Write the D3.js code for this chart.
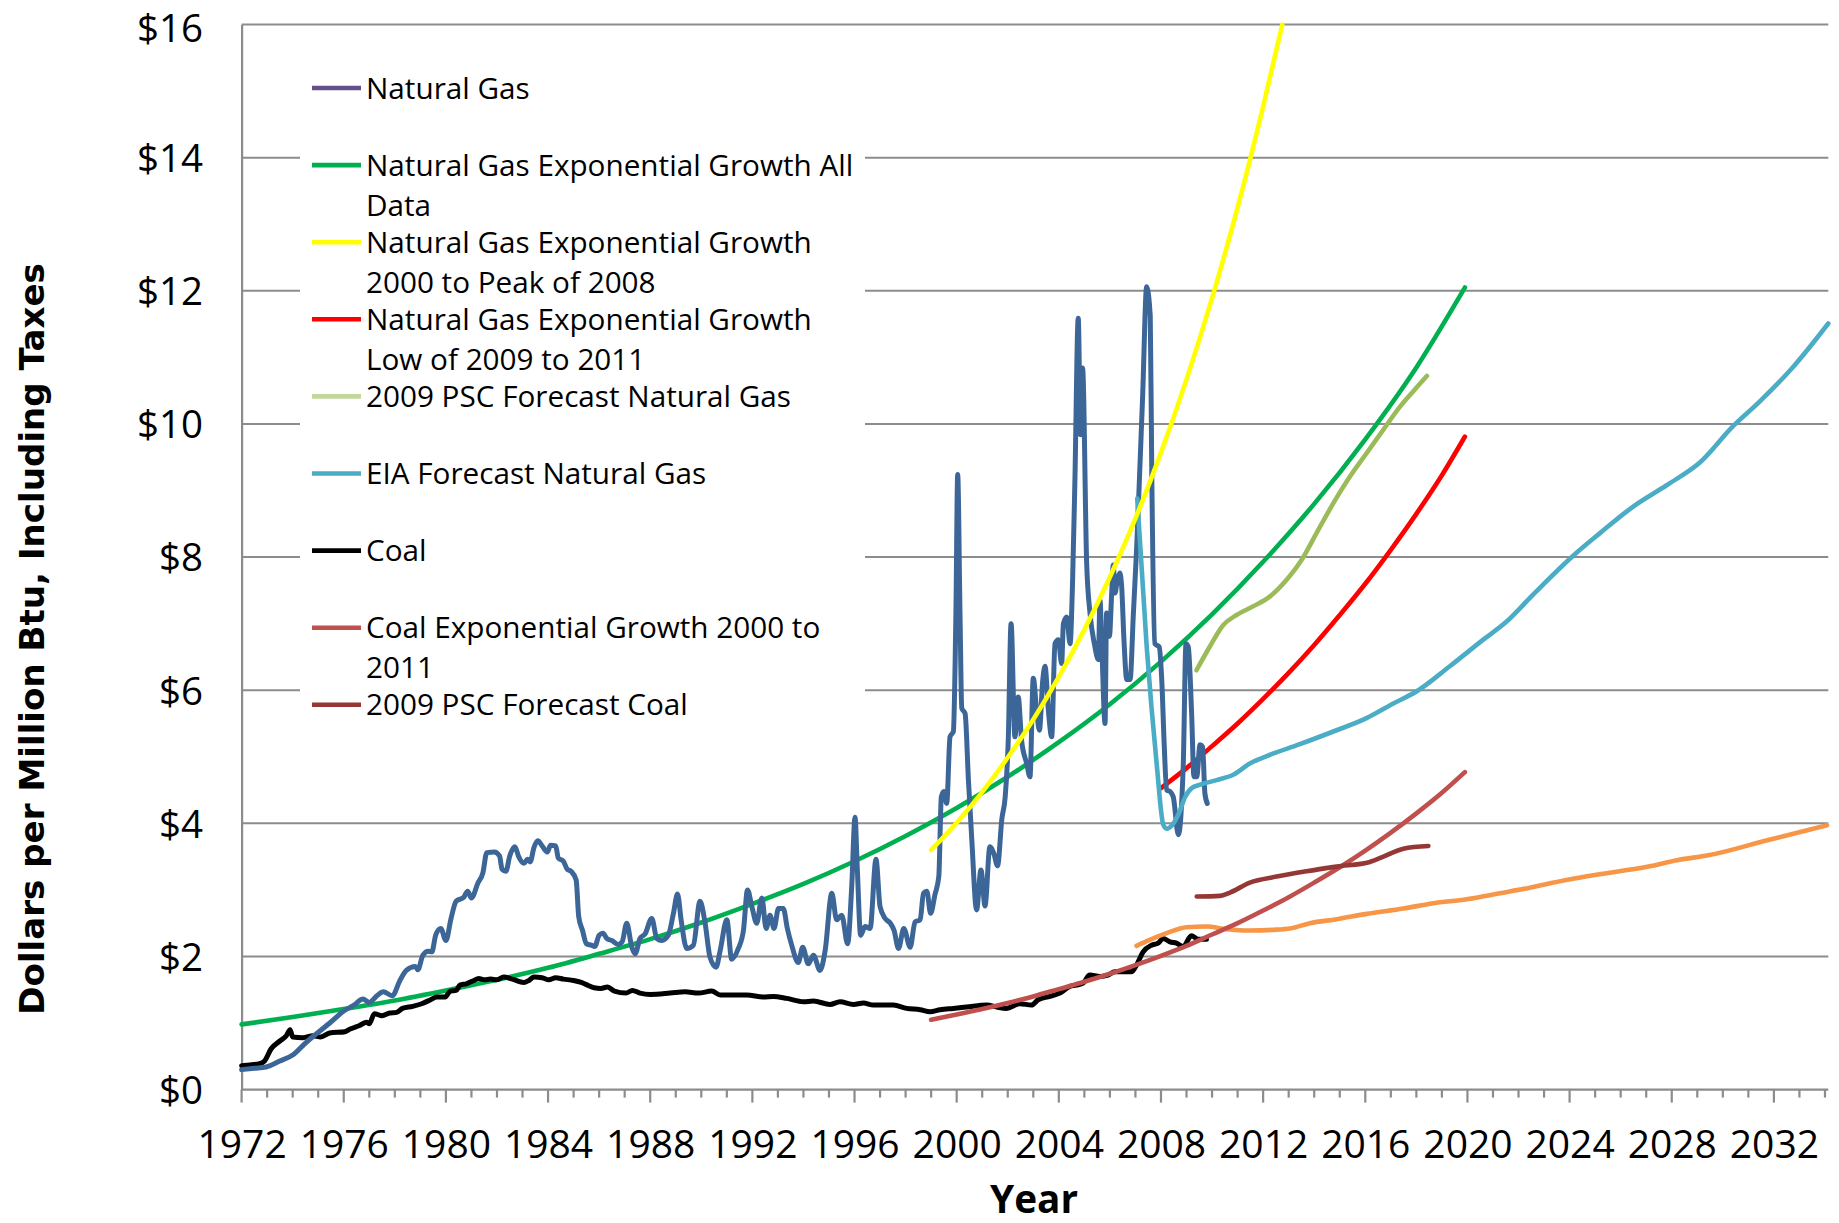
<!DOCTYPE html>
<html>
<head>
<meta charset="utf-8">
<script src="https://cdn.jsdelivr.net/npm/d3@7"></script>
<style>
  html, body { margin: 0; padding: 0; background: #ffffff; }
  svg { display: block; }
</style>
</head>
<body>
<svg id="chart" width="1839" height="1223"></svg>
<script>
// ---------------- DATA ----------------
const xTickYears = [1972, 1976, 1980, 1984, 1988, 1992, 1996, 2000, 2004, 2008, 2012, 2016, 2020, 2024, 2028, 2032];
const yTickValues = [0, 2, 4, 6, 8, 10, 12, 14, 16];
const yTickLabels = ["$0", "$2", "$4", "$6", "$8", "$10", "$12", "$14", "$16"];

const naturalGas = [
  [1972.00,0.30],[1972.50,0.32],[1972.96,0.34],[1973.50,0.43],[1974.00,0.52],[1974.50,0.70],[1974.90,0.83],
  [1975.45,1.00],[1976.00,1.18],[1976.40,1.27],[1976.75,1.36],[1977.00,1.31],[1977.30,1.41],[1977.55,1.47],
  [1977.90,1.41],[1978.20,1.64],[1978.45,1.79],[1978.80,1.85],[1978.90,1.80],[1979.10,2.02],[1979.30,2.08],
  [1979.45,2.07],[1979.60,2.32],[1979.80,2.42],[1980.00,2.24],[1980.20,2.57],[1980.40,2.83],[1980.70,2.89],
  [1980.85,2.98],[1981.00,2.88],[1981.25,3.10],[1981.45,3.26],[1981.60,3.56],[1981.90,3.57],[1982.10,3.51],
  [1982.20,3.31],[1982.35,3.28],[1982.50,3.51],[1982.70,3.65],[1982.85,3.50],[1983.05,3.40],[1983.20,3.46],
  [1983.30,3.42],[1983.45,3.64],[1983.60,3.74],[1983.77,3.66],[1983.97,3.57],[1984.10,3.67],[1984.30,3.66],
  [1984.40,3.48],[1984.60,3.43],[1984.75,3.31],[1984.90,3.28],[1985.10,3.15],[1985.20,2.60],[1985.35,2.39],
  [1985.50,2.19],[1985.70,2.17],[1985.83,2.15],[1986.00,2.32],[1986.15,2.35],[1986.30,2.27],[1986.50,2.24],
  [1986.75,2.18],[1986.90,2.22],[1987.08,2.50],[1987.28,2.14],[1987.41,2.04],[1987.60,2.27],[1987.80,2.34],
  [1988.06,2.57],[1988.26,2.27],[1988.45,2.24],[1988.71,2.32],[1988.91,2.65],[1989.07,2.94],[1989.21,2.55],
  [1989.43,2.12],[1989.69,2.17],[1989.95,2.83],[1990.15,2.50],[1990.34,1.99],[1990.58,1.84],[1990.74,2.09],
  [1991.00,2.55],[1991.19,1.96],[1991.45,2.12],[1991.65,2.39],[1991.81,3.00],[1991.98,2.75],[1992.17,2.50],
  [1992.37,2.88],[1992.54,2.42],[1992.69,2.62],[1992.85,2.42],[1993.02,2.72],[1993.21,2.72],[1993.37,2.42],
  [1993.54,2.17],[1993.80,1.91],[1993.97,2.14],[1994.19,1.89],[1994.39,2.02],[1994.65,1.79],[1994.85,2.09],
  [1995.11,2.95],[1995.30,2.55],[1995.50,2.62],[1995.73,2.19],[1995.89,3.05],[1996.02,4.09],[1996.11,3.31],
  [1996.24,2.32],[1996.41,2.45],[1996.61,2.42],[1996.84,3.46],[1997.00,2.75],[1997.20,2.57],[1997.40,2.50],
  [1997.55,2.39],[1997.72,2.12],[1997.93,2.42],[1998.18,2.14],[1998.37,2.52],[1998.57,2.55],[1998.70,2.95],
  [1998.83,2.98],[1998.98,2.65],[1999.15,2.93],[1999.30,3.20],[1999.40,4.40],[1999.50,4.48],[1999.61,4.30],
  [1999.74,5.30],[1999.87,5.38],[1999.97,7.16],[2000.04,9.24],[2000.13,7.16],[2000.20,5.73],[2000.33,5.65],
  [2000.46,4.65],[2000.59,3.77],[2000.78,2.70],[2000.95,3.30],[2001.11,2.76],[2001.30,3.65],[2001.46,3.54],
  [2001.60,3.36],[2001.77,4.07],[2001.90,4.40],[2002.02,5.25],[2002.13,7.00],[2002.28,5.30],[2002.41,5.90],
  [2002.54,5.25],[2002.74,4.90],[2002.87,4.70],[2003.00,6.18],[2003.13,5.70],[2003.24,5.40],[2003.37,6.15],
  [2003.46,6.36],[2003.59,5.70],[2003.72,5.30],[2003.85,6.70],[2003.98,6.76],[2004.11,6.40],[2004.18,7.00],
  [2004.31,7.10],[2004.44,6.70],[2004.54,7.66],[2004.63,9.16],[2004.76,11.59],[2004.85,9.84],[2004.93,10.84],
  [2005.09,7.91],[2005.22,7.16],[2005.39,6.70],[2005.55,6.46],[2005.61,7.36],[2005.68,6.70],[2005.81,5.50],
  [2005.87,7.16],[2005.98,6.81],[2006.07,7.46],[2006.13,7.88],[2006.20,7.46],[2006.29,7.66],[2006.39,7.76],
  [2006.46,7.56],[2006.55,6.76],[2006.66,6.16],[2006.79,6.16],[2006.92,7.16],[2007.05,8.16],[2007.18,9.41],
  [2007.28,10.40],[2007.44,12.06],[2007.58,11.62],[2007.64,9.24],[2007.76,6.70],[2007.93,6.65],[2008.03,6.16],
  [2008.13,5.15],[2008.22,4.50],[2008.35,4.48],[2008.48,4.40],[2008.68,3.83],[2008.87,4.85],[2008.98,6.70],
  [2009.07,6.65],[2009.20,5.65],[2009.29,4.70],[2009.40,4.70],[2009.53,5.18],[2009.63,5.15],[2009.72,4.45],
  [2009.81,4.30]
];

const coal = [
  [1972.00,0.36],[1972.70,0.39],[1972.90,0.43],[1973.15,0.61],[1973.50,0.73],[1973.75,0.81],[1973.90,0.90],
  [1974.00,0.79],[1974.40,0.78],[1974.80,0.81],[1975.10,0.79],[1975.45,0.85],[1976.05,0.87],[1976.25,0.91],
  [1976.60,0.96],[1976.90,1.01],[1977.00,0.99],[1977.20,1.14],[1977.50,1.11],[1977.80,1.15],[1978.07,1.16],
  [1978.30,1.22],[1978.70,1.25],[1979.05,1.29],[1979.40,1.35],[1979.65,1.39],[1979.97,1.39],[1980.17,1.48],
  [1980.40,1.49],[1980.55,1.57],[1980.80,1.59],[1981.10,1.64],[1981.28,1.67],[1981.50,1.65],[1981.75,1.66],
  [1982.00,1.65],[1982.26,1.69],[1982.60,1.66],[1983.05,1.61],[1983.25,1.64],[1983.45,1.69],[1983.77,1.68],
  [1984.03,1.65],[1984.30,1.68],[1984.60,1.66],[1985.00,1.64],[1985.30,1.61],[1985.54,1.57],[1985.80,1.53],
  [1986.06,1.52],[1986.33,1.54],[1986.60,1.48],[1987.05,1.45],[1987.30,1.49],[1987.60,1.45],[1988.00,1.43],
  [1988.78,1.45],[1989.37,1.47],[1989.89,1.45],[1990.41,1.48],[1990.74,1.42],[1991.13,1.42],[1991.78,1.42],
  [1992.43,1.39],[1992.82,1.40],[1993.35,1.37],[1994.00,1.32],[1994.39,1.33],[1995.04,1.28],[1995.43,1.32],
  [1995.96,1.28],[1996.35,1.30],[1996.74,1.27],[1997.52,1.27],[1998.04,1.22],[1998.57,1.20],[1998.96,1.17],
  [1999.35,1.20],[1999.87,1.22],[2000.39,1.24],[2001.18,1.27],[2001.57,1.24],[2001.95,1.22],[2002.47,1.29],
  [2002.93,1.27],[2003.19,1.35],[2003.65,1.40],[2004.04,1.45],[2004.43,1.55],[2004.69,1.57],[2004.95,1.60],
  [2005.21,1.72],[2005.60,1.70],[2005.93,1.72],[2006.19,1.77],[2006.52,1.77],[2006.84,1.77],[2007.04,1.87],
  [2007.30,2.07],[2007.63,2.17],[2007.89,2.20],[2008.08,2.27],[2008.35,2.22],[2008.61,2.20],[2008.87,2.15],
  [2009.19,2.31],[2009.46,2.26],[2009.78,2.26]
];

const ngExpAll = [
  [1972,0.98],[1974,1.09],[1976,1.21],[1978,1.34],[1980,1.49],[1982,1.65],[1984,1.83],[1986,2.04],
  [1988,2.26],[1990,2.51],[1992,2.79],[1994,3.09],[1996,3.43],[1998,3.81],[2000,4.23],[2002,4.70],
  [2004,5.22],[2006,5.79],[2008,6.43],[2010,7.14],[2012,7.93],[2014,8.80],[2016,9.77],[2018,10.85],[2019.9,12.05]
];

const ngExp2000 = [
  [1999.0,3.60],[2000,4.01],[2001,4.47],[2002,4.99],[2003,5.56],[2004,6.20],[2005,6.91],[2006,7.70],
  [2007,8.58],[2008,9.57],[2009,10.67],[2010,11.89],[2011,13.25],[2012,14.77],[2012.75,16.0]
];

const ngExpLow = [
  [2008.0,4.53],[2009,4.83],[2010,5.16],[2011,5.50],[2012,5.87],[2013,6.26],[2014,6.68],[2015,7.13],
  [2016,7.60],[2017,8.11],[2018,8.65],[2019,9.23],[2019.9,9.81]
];

const pscNaturalGas = [
  [2009.39,6.30],[2009.92,6.66],[2010.44,6.98],[2010.96,7.13],[2011.61,7.26],[2012.27,7.41],[2012.92,7.66],
  [2013.51,7.96],[2014.09,8.36],[2014.75,8.81],[2015.40,9.21],[2016.05,9.56],[2016.70,9.91],[2017.36,10.26],
  [2017.90,10.50],[2018.41,10.72]
];

const eiaNaturalGas = [
  [2007.07,8.88],[2007.44,6.66],[2007.83,4.90],[2008.09,3.98],[2008.22,3.92],[2008.45,3.98],[2008.70,4.15],
  [2008.95,4.40],[2009.20,4.53],[2009.53,4.58],[2010.18,4.65],[2010.83,4.73],[2011.48,4.90],[2012.14,5.01],
  [2013.44,5.19],[2014.75,5.38],[2016.05,5.58],[2017.10,5.80],[2018.00,5.98],[2019.31,6.36],[2020.62,6.76],
  [2021.50,7.02],[2022.58,7.44],[2024.14,8.02],[2025.19,8.36],[2026.49,8.76],[2027.80,9.08],[2029.10,9.42],
  [2030.41,9.97],[2031.45,10.34],[2032.76,10.86],[2034.13,11.51]
];

const coalExp2000 = [
  [1999.0,1.05],[2000,1.13],[2001,1.21],[2002,1.30],[2003,1.40],[2004,1.51],[2005,1.62],[2006,1.74],
  [2007,1.87],[2008,2.01],[2009,2.16],[2010,2.33],[2011,2.50],[2012,2.69],[2013,2.89],[2014,3.11],
  [2015,3.34],[2016,3.59],[2017,3.86],[2018,4.15],[2019,4.46],[2019.9,4.77]
];

const pscCoal = [
  [2009.40,2.90],[2010.31,2.91],[2010.70,2.96],[2011.48,3.11],[2012.53,3.20],[2013.70,3.28],[2014.88,3.35],
  [2016.18,3.42],[2016.71,3.50],[2017.49,3.62],[2018.47,3.66]
];

const eiaCoal = [
  [2007.04,2.16],[2007.56,2.25],[2008.22,2.35],[2009.00,2.44],[2009.78,2.45],[2010.56,2.41],[2011.48,2.39],
  [2012.39,2.40],[2013.05,2.42],[2013.83,2.50],[2014.88,2.56],[2016.05,2.64],[2017.49,2.72],[2018.66,2.80],
  [2019.97,2.86],[2021.27,2.95],[2022.40,3.03],[2023.23,3.10],[2024.74,3.21],[2027.09,3.35],[2028.26,3.45],
  [2029.43,3.52],[2031.78,3.75],[2034.08,3.97]
];

const legendNames = [
  ["Natural Gas"],
  ["Natural Gas Exponential Growth All", "Data"],
  ["Natural Gas Exponential Growth", "2000 to Peak of 2008"],
  ["Natural Gas Exponential Growth", "Low of 2009 to 2011"],
  ["2009 PSC Forecast Natural Gas"],
  ["EIA Forecast Natural Gas"],
  ["Coal"],
  ["Coal Exponential Growth 2000 to", "2011"],
  ["2009 PSC Forecast Coal"]
];

// ---------------- LAYOUT / STYLE ----------------
const W = 1839, H = 1223;
const plot = { left: 241.6, right: 1828.3, top: 24.6, bottom: 1089.6 };
const gridColor = "#8c8c8c";
const fontMain = "'Open Sans', 'Noto Sans', sans-serif";

const svg = d3.select("#chart");
svg.append("rect").attr("width", W).attr("height", H).attr("fill", "#ffffff");

const x = d3.scaleLinear().domain([1972, 2034.13]).range([plot.left, plot.right]);
const y = d3.scaleLinear().domain([0, 16]).range([plot.bottom, plot.top]);

// gridlines
svg.append("g").selectAll("line").data(yTickValues.filter(v => v > 0)).join("line")
  .attr("x1", plot.left).attr("x2", plot.right)
  .attr("y1", d => y(d)).attr("y2", d => y(d))
  .attr("stroke", gridColor).attr("stroke-width", 2);

// y axis (line + labels)
const yAxis = d3.axisLeft(y).tickValues(yTickValues).tickSize(0)
  .tickFormat((d, i) => yTickLabels[i]).tickPadding(40);
const gy = svg.append("g").attr("transform", `translate(${plot.left},0)`).call(yAxis);
gy.select(".domain").attr("stroke", gridColor).attr("stroke-width", 2.2);
gy.selectAll("text").attr("font-family", fontMain).attr("font-size", 38.5).attr("fill", "#000")
  .attr("dy", "0.36em").attr("x", -(plot.left - 203));
// keep the top label's box inside the picture
gy.selectAll(".tick").filter(d => d === 16).select("text").attr("dy", "0.44em");

// x axis: minor ticks every year, major every 4 years
const minorYears = d3.range(1972, 2035, 1);
const gx = svg.append("g").attr("transform", `translate(0,${plot.bottom})`);
gx.append("line").attr("x1", plot.left).attr("x2", plot.right).attr("y1", 0).attr("y2", 0)
  .attr("stroke", gridColor).attr("stroke-width", 2.2);
gx.selectAll("line.tick").data(minorYears).join("line").attr("class", "tick")
  .attr("x1", d => x(d)).attr("x2", d => x(d)).attr("y1", 0)
  .attr("y2", d => ((d - 1972) % 4 === 0) ? 13 : 8)
  .attr("stroke", gridColor).attr("stroke-width", 2.2);
const xAxis = d3.axisBottom(x).tickValues(xTickYears).tickFormat(d3.format("d")).tickSize(0).tickPadding(0);
const gxl = svg.append("g").attr("transform", `translate(0,${plot.bottom})`).call(xAxis);
gxl.select(".domain").remove();
gxl.selectAll("text").attr("font-family", fontMain).attr("font-size", 39).attr("fill", "#000")
  .attr("dy", null).attr("y", 1158 - plot.bottom);

// axis titles
const yTitle = svg.append("text").text("Dollars per Million Btu, Including Taxes")
  .attr("font-family", "'DejaVu Sans', Verdana, sans-serif").attr("font-weight", "bold")
  .attr("font-size", 34).attr("fill", "#000").attr("text-anchor", "middle")
  .attr("transform", "translate(44,639) rotate(-90)");
const xTitle = svg.append("text").text("Year")
  .attr("font-family", fontMain).attr("font-weight", "bold")
  .attr("font-size", 37).attr("fill", "#000").attr("text-anchor", "middle")
  .attr("x", 1034).attr("y", 1213);

function fitWidth(sel, target) {
  const w = sel.node().getComputedTextLength();
  const fs = parseFloat(sel.attr("font-size"));
  if (w > 0) sel.attr("font-size", (fs * target / w).toFixed(2));
}
fitWidth(yTitle, 752);
fitWidth(xTitle, 88);

// series
const line = d3.line().x(d => x(d[0])).y(d => y(d[1])).curve(d3.curveMonotoneX);
const seriesDefs = [
  { data: ngExpAll, color: "#00b050", width: 4.6 },
  { data: coal, color: "#000000", width: 5 },
  { data: eiaCoal, color: "#f79646", width: 4.6 },
  { data: coalExp2000, color: "#c0504d", width: 4.6 },
  { data: pscCoal, color: "#953735", width: 4.6 },
  { data: pscNaturalGas, color: "#9bbb59", width: 4.6 },
  { data: ngExpLow, color: "#ff0000", width: 4.6 },
  { data: naturalGas, color: "#3d6698", width: 5 },
  { data: eiaNaturalGas, color: "#4bacc6", width: 4.6 },
  { data: ngExp2000, color: "#ffff00", width: 4.6 }
];
const gs = svg.append("g");
seriesDefs.forEach(s => {
  gs.append("path").datum(s.data).attr("d", line)
    .attr("fill", "none").attr("stroke", s.color).attr("stroke-width", s.width)
    .attr("stroke-linejoin", "round").attr("stroke-linecap", "round");
});

// legend
const legendColors = ["#64508a", "#00b050", "#ffff00", "#ff0000", "#c3d69b", "#4bacc6", "#000000", "#c0504d", "#953735"];
const lg = svg.append("g");
lg.append("rect").attr("x", 300).attr("y", 48).attr("width", 565).attr("height", 680).attr("fill", "#ffffff");
const legendTop = 88, legendPitch = 77.1, lineGap = 39.8;
const legendFont = 29.7;
legendNames.forEach((lines, i) => {
  const cy = legendTop + i * legendPitch;
  lg.append("line").attr("x1", 312).attr("x2", 361).attr("y1", cy).attr("y2", cy)
    .attr("stroke", legendColors[i]).attr("stroke-width", 4.6);
  lines.forEach((t, j) => {
    lg.append("text").attr("class", "lgtext").text(t)
      .attr("x", 366).attr("y", cy + j * lineGap).attr("dy", "0.36em")
      .attr("font-family", fontMain).attr("font-size", legendFont).attr("fill", "#000");
  });
});
</script>
</body>
</html>
